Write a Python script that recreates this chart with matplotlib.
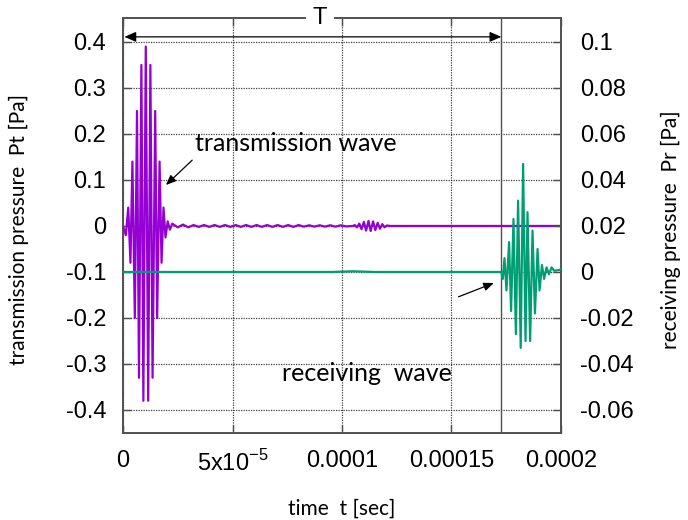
import matplotlib
matplotlib.use("Agg")
import numpy as np
import matplotlib.pyplot as plt
from matplotlib.ticker import FixedLocator, FixedFormatter

# transmission wave: extrema (time in microseconds, Pt in Pa)
tx_us = [0.0, 1.3, 2.4, 3.4, 4.3, 5.4, 6.4, 7.3, 8.4, 9.3, 10.4, 11.5, 12.5, 13.5,
         14.7, 15.6, 16.7, 17.6, 18.5, 19.4, 20.4, 21.4, 22.5,
         25.0, 27.4, 29.8, 32.2, 34.6, 37.0, 39.4, 41.8, 44.2, 46.6, 49.0, 51.4,
         53.8, 56.2, 58.6, 61.0, 63.4, 65.8, 68.2, 70.6, 73.0, 75.4, 77.8, 80.2,
         82.6, 85.0, 87.4, 89.8, 92.2, 94.6, 97.0, 99.4, 102.0, 105.0,
         105.8, 106.8, 107.9, 108.9, 110.0, 111.0, 112.1, 113.1, 114.2, 115.2,
         116.3, 117.3, 118.4, 119.4, 120.5, 122.0, 200.0]
tx_pt = [0.0, -0.02, 0.04, -0.08, 0.14, -0.20, 0.25, -0.33, 0.35, -0.38, 0.39, -0.38, 0.35, -0.33,
         0.25, -0.20, 0.14, -0.08, 0.04, -0.025, 0.01, -0.008, 0.005,
         -0.003, 0.003, -0.003, 0.002, -0.002, 0.002, -0.002, 0.002, -0.002, 0.002, -0.002, 0.002,
         -0.002, 0.002, -0.002, 0.002, -0.002, 0.002, -0.002, 0.002, -0.002, 0.002, -0.002, 0.002,
         -0.0015, 0.0015, -0.0015, 0.0015, -0.0015, 0.0015, -0.0015, 0.0015, -0.001, 0.0,
         0.002, -0.003, 0.005, -0.007, 0.009, -0.010, 0.011, -0.011, 0.010, -0.009,
         0.007, -0.006, 0.004, -0.003, 0.001, 0.0, 0.0]

# receiving wave (time in microseconds, Pr in Pa)
rx_us = [0.0, 95.0, 105.0, 115.0, 172.8, 173.4, 174.2, 175.1, 176.3, 177.2, 178.3, 179.4,
         180.4, 181.6, 182.7, 183.8, 184.7, 185.9, 187.0, 188.1, 189.3, 190.2,
         191.3, 192.3, 193.4, 194.5, 195.7, 196.9, 200.0]
rx_pr = [0.0, 0.0, 0.0003, 0.0, 0.0, -0.003, 0.006, -0.008, 0.013, -0.017, 0.023, -0.027,
         0.031, -0.033, 0.047, -0.030, 0.026, -0.030, 0.018, -0.018, 0.010, -0.008,
         0.003, -0.003, 0.002, -0.001, 0.002, 0.0005, 0.001]

x_ticks = [0, 5e-5, 1e-4, 1.5e-4, 2e-4]
x_labels = ["0", r"5x10$^{\mathregular{-5}}$", "0.0001", "0.00015", "0.0002"]
left_ticks = [0.4, 0.3, 0.2, 0.1, 0, -0.1, -0.2, -0.3, -0.4]
left_labels = ["0.4", "0.3", "0.2", "0.1", "0", "-0.1", "-0.2", "-0.3", "-0.4"]
right_ticks = [0.1, 0.08, 0.06, 0.04, 0.02, 0, -0.02, -0.04, -0.06]
right_labels = ["0.1", "0.08", "0.06", "0.04", "0.02", "0", "-0.02", "-0.04", "-0.06"]
T_period = 1.728e-4

plt.rcParams["mathtext.fontset"] = "custom"
plt.rcParams["mathtext.rm"] = "Liberation Sans"
plt.rcParams["font.family"] = ["Liberation Sans", "DejaVu Sans"]

PURPLE = "#9400D3"
GREEN = "#009E73"
FRAME = "#505050"
tick_font = 17
label_font = dict(family=["Lato", "DejaVu Sans"], size=15)

fig = plt.figure(figsize=(6.88, 5.2), dpi=100)
ax = fig.add_axes([123 / 688, 87 / 520, 438 / 688, 415 / 520])
ax2 = ax.twinx()

t_tx = np.array(tx_us) * 1e-6
t_rx = np.array(rx_us) * 1e-6
ax.plot(t_tx, tx_pt, color=PURPLE, lw=1.6, zorder=3)
ax2.plot(t_rx, rx_pr, color=GREEN, lw=1.6, zorder=3)

ax.set_xlim(0, 2e-4)
ax.set_ylim(-0.45, 0.452)
ax2.set_ylim(-0.07, 0.1104)

ax.xaxis.set_major_locator(FixedLocator(x_ticks))
ax.xaxis.set_major_formatter(FixedFormatter(x_labels))
ax.yaxis.set_major_locator(FixedLocator(left_ticks))
ax.yaxis.set_major_formatter(FixedFormatter(left_labels))
ax2.yaxis.set_major_locator(FixedLocator(right_ticks))
ax2.yaxis.set_major_formatter(FixedFormatter(right_labels))

ax.tick_params(axis="x", direction="in", length=6, width=1, color=FRAME,
               labelsize=tick_font, pad=12, top=True)
ax.tick_params(axis="y", direction="in", length=6, width=1, color=FRAME,
               labelsize=tick_font, pad=12, right=False)
ax2.tick_params(axis="y", direction="in", length=6, width=1, color=FRAME,
                labelsize=tick_font, pad=14)

ax.grid(True, color="#404040", lw=0.9, linestyle=(0, (1, 1)))
for a in (ax, ax2):
    for s in a.spines.values():
        s.set_color(FRAME)
        s.set_linewidth(1.2)

# period marker
ax.axvline(T_period, color=FRAME, lw=1.0, zorder=2)
ax.annotate("", xy=(0.6e-6, 0.411), xytext=(T_period, 0.411),
            arrowprops=dict(arrowstyle="<|-|>,head_length=0.7,head_width=0.3",
                            color="black", lw=0.9, shrinkA=0, shrinkB=0))
fig.text(320 / 688, 1 - 18 / 520, "T", fontsize=17, ha="center", va="center",
         bbox=dict(facecolor="white", edgecolor="none", pad=5))

# wave labels
ax.text(33e-6, 0.18, "transmission wave", fontsize=18, ha="left", va="center",
        family=["Lato", "DejaVu Sans"])
ax.annotate("", xy=(19.6e-6, 0.089), xytext=(31.6e-6, 0.143),
            arrowprops=dict(arrowstyle="-|>,head_length=0.6,head_width=0.25",
                            color="black", lw=0.9, shrinkA=0, shrinkB=0))
ax.text(72.5e-6, -0.32, "receiving  wave", fontsize=18, ha="left", va="center",
        family=["Lato", "DejaVu Sans"])
ax.annotate("", xy=(169.3e-6, -0.124), xytext=(153.2e-6, -0.154),
            arrowprops=dict(arrowstyle="-|>,head_length=0.6,head_width=0.25",
                            color="black", lw=0.9, shrinkA=0, shrinkB=0))

ax.set_xlabel("time  t [sec]", **label_font)
ax.xaxis.set_label_coords(0.5, -0.158)
ax.set_ylabel("transmission pressure  Pt [Pa]", **label_font)
ax.yaxis.set_label_coords(-0.215, 0.49)
ax2.set_ylabel("receiving pressure  Pr [Pa]", **label_font, rotation=90)
ax2.yaxis.set_label_coords(1.228, 0.49)

fig.savefig("out.png", dpi=100)
